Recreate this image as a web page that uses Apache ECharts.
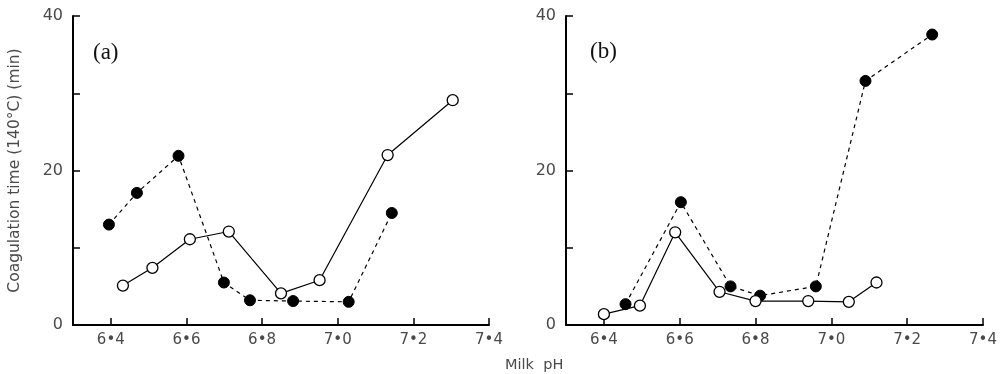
<!DOCTYPE html>
<html>
<head>
<meta charset="utf-8">
<style>
  html, body { margin: 0; padding: 0; background: #fff; }
  #chart { width: 1007px; height: 374px; }
</style>
<script src="https://cdn.jsdelivr.net/npm/echarts@6/dist/echarts.min.js"></script>
</head>
<body>
<div id="chart"></div>
<script>
// Panel (a): milk pH vs coagulation time
const phA_filled   = [6.395, 6.469, 6.579, 6.699, 6.768, 6.882, 7.029, 7.143];
const timeA_filled = [13.0, 17.1, 21.9, 5.5, 3.2, 3.1, 3.0, 14.5];
const phA_open     = [6.432, 6.510, 6.609, 6.712, 6.850, 6.952, 7.132, 7.304];
const timeA_open   = [5.1, 7.4, 11.1, 12.1, 4.1, 5.8, 22.0, 29.1];

// Panel (b)
const phB_filled   = [6.457, 6.603, 6.734, 6.812, 6.959, 7.090, 7.266];
const timeB_filled = [2.7, 15.9, 5.0, 3.8, 5.0, 31.6, 37.6];
const phB_open     = [6.400, 6.495, 6.588, 6.705, 6.800, 6.939, 7.046, 7.119];
const timeB_open   = [1.4, 2.5, 12.0, 4.3, 3.1, 3.1, 3.0, 5.5];

// Axis ticks
const phTicks = [6.4, 6.6, 6.8, 7.0, 7.2, 7.4];
const timeLabels = [0, 20, 40];

const pairs = (xs, ys) => xs.map((x, i) => [x, ys[i]]);

const textColor = '#4a4a4a';
const sansFont = 'DejaVu Sans';

function makeX(gridIndex) {
  return {
    type: 'value', gridIndex, min: 6.3, max: 7.4,
    axisLine: { show: true, onZero: false, lineStyle: { color: '#000', width: 2 } },
    axisTick: { show: true, inside: true, length: 7, customValues: phTicks,
                lineStyle: { color: '#000', width: 1.5 } },
    axisLabel: { customValues: phTicks, margin: 8, color: textColor,
                 fontFamily: sansFont, fontSize: 15,
                 formatter: v => v.toFixed(1).replace('.', '\u2022') },
    splitLine: { show: false }
  };
}

function makeY(gridIndex, withName) {
  return {
    type: 'value', gridIndex, min: 0, max: 40, interval: 10,
    name: withName ? 'Coagulation time (140°C) (min)' : '',
    nameLocation: 'middle', nameGap: 50, nameRotate: 90,
    nameTextStyle: { color: textColor, fontFamily: sansFont, fontSize: 15.5 },
    axisLine: { show: true, lineStyle: { color: '#000', width: 2 } },
    axisTick: { show: true, inside: true, length: 7, lineStyle: { color: '#000', width: 1.5 } },
    axisLabel: { margin: 10, color: textColor, fontFamily: sansFont, fontSize: 16,
                 formatter: v => timeLabels.includes(v) ? String(v) : '' },
    splitLine: { show: false }
  };
}

function filledSeries(idx, data) {
  return {
    type: 'line', xAxisIndex: idx, yAxisIndex: idx, data,
    symbol: 'circle', symbolSize: 11,
    itemStyle: { color: '#000', borderColor: '#000', borderWidth: 1 },
    lineStyle: { color: '#000', width: 1.2, type: [4, 4] },
    z: 3
  };
}

function openSeries(idx, data) {
  return {
    type: 'line', xAxisIndex: idx, yAxisIndex: idx, data,
    symbol: 'circle', symbolSize: 11, showAllSymbol: true,
    itemStyle: { color: '#fff', borderColor: '#000', borderWidth: 1.3 },
    lineStyle: { color: '#000', width: 1.2 },
    z: 4
  };
}

const chart = echarts.init(document.getElementById('chart'), null, { renderer: 'canvas' });
chart.setOption({
  backgroundColor: '#fff',
  animation: false,
  grid: [
    { left: 73, top: 16, width: 416, height: 309 },
    { left: 566, top: 16, width: 417, height: 309 }
  ],
  xAxis: [makeX(0), makeX(1)],
  yAxis: [makeY(0, true), makeY(1, false)],
  series: [
    filledSeries(0, pairs(phA_filled, timeA_filled)),
    openSeries(0, pairs(phA_open, timeA_open)),
    filledSeries(1, pairs(phB_filled, timeB_filled)),
    openSeries(1, pairs(phB_open, timeB_open))
  ],
  graphic: [
    { type: 'text', left: 93, top: 41,
      style: { text: '(a)', font: '23px "Liberation Serif"', fill: '#111' } },
    { type: 'text', left: 590, top: 40,
      style: { text: '(b)', font: '23px "Liberation Serif"', fill: '#111' } },
    { type: 'text', left: 505, top: 358,
      style: { text: 'Milk  pH', font: '14.5px "DejaVu Sans"', fill: textColor } }
  ]
});
</script>
</body>
</html>
